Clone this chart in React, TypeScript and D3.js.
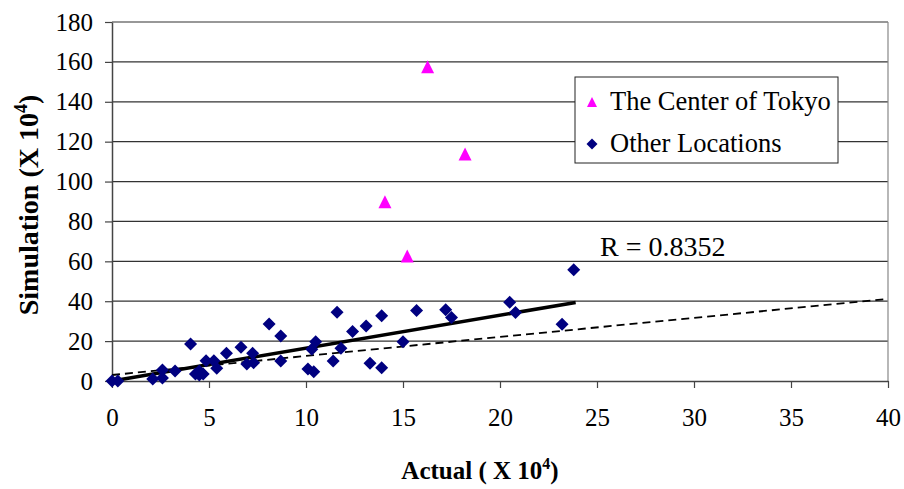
import React, { useEffect, useRef } from 'react';
import * as d3 from 'd3';

// values (units: x 10^4)
const tokyo: [number, number][] = [
  [16.27, 157.6],
  [18.2, 113.8],
  [14.07, 89.9],
  [15.22, 62.7],
];

const otherLocations: [number, number][] = [
  [0, 0], [0.3, 0], [2.1, 1], [2.6, 5.5], [2.6, 1.5], [3.25, 5], [4.05, 18.6],
  [4.3, 3.5], [4.5, 5], [4.7, 3.5], [4.5, 3], [4.85, 10.2], [5.25, 10.2], [5.4, 6.4],
  [5.9, 13.9], [6.65, 16.9], [6.95, 8.5], [7.3, 9.2], [7.25, 13.9], [8.1, 28.6],
  [8.7, 22.6], [8.7, 10], [10.1, 6], [10.4, 4.7], [10.5, 19.7], [10.3, 15.9],
  [11.6, 34.5], [11.4, 10], [11.8, 16.4], [12.4, 24.8], [13.1, 27.6], [13.3, 8.9],
  [13.9, 32.7], [13.9, 6.7], [15.0, 19.7], [15.7, 35.3], [17.2, 35.7], [17.5, 31.8],
  [20.5, 39.5], [20.8, 34.3], [23.2, 28.5], [23.8, 55.8],
];

// fitted line (solid) and reference line (dashed), as end points
const fitLine: [number, number][] = [[0, 0], [23.9, 39.4]];
const refLine: [number, number][] = [[0, 3.0], [40, 41.2]];

const xTicks = [0, 5, 10, 15, 20, 25, 30, 35, 40];
const yTicks = [0, 20, 40, 60, 80, 100, 120, 140, 160, 180];

const legendItems = ['The Center of Tokyo', 'Other Locations'];

const W = 904, H = 489;
const FONT = 'Liberation Serif';

const diamond = (r: number) => `M0,${-r}L${r},0L0,${r}L${-r},0Z`;
const triangle = (r: number) => `M0,${-r}L${r},${r}L${-r},${r}Z`;

export default function App() {
  const svgRef = useRef<SVGSVGElement>(null);

  useEffect(() => {
    const svg = d3.select(svgRef.current);
    svg.selectAll('*').remove();

    const x = d3.scaleLinear().domain([0, 40]).range([112, 888]);
    const y = d3.scaleLinear().domain([0, 180]).range([381, 22]);

    // gridlines
    svg.append('g')
      .selectAll('line')
      .data(yTicks.slice(1))
      .enter()
      .append('line')
      .attr('x1', x(0)).attr('x2', x(40))
      .attr('y1', d => y(d)).attr('y2', d => y(d))
      .attr('stroke', '#333').attr('stroke-width', 1.2);

    // right border of plot area
    svg.append('line')
      .attr('x1', x(40)).attr('x2', x(40))
      .attr('y1', y(180)).attr('y2', y(0))
      .attr('stroke', '#888').attr('stroke-width', 1.2);

    // axes
    const yAxis = svg.append('g')
      .attr('transform', `translate(${x(0)},0)`)
      .call(d3.axisLeft(y).tickValues(yTicks).tickSize(7).tickPadding(12).tickSizeOuter(0));
    const xAxis = svg.append('g')
      .attr('transform', `translate(0,${y(0)})`)
      .call(d3.axisBottom(x).tickValues(xTicks).tickSize(7).tickPadding(20).tickSizeOuter(0));

    [yAxis, xAxis].forEach(a => {
      a.attr('font-family', FONT).attr('font-size', 25);
      a.select('.domain').attr('stroke', '#444').attr('stroke-width', 1.5);
      a.selectAll('.tick line').attr('stroke', '#444').attr('stroke-width', 1.2);
      a.selectAll('.tick text').attr('fill', '#000');
    });

    // lines
    const line = d3.line<[number, number]>().x(d => x(d[0])).y(d => y(d[1]));
    svg.append('path')
      .attr('d', line(refLine))
      .attr('fill', 'none').attr('stroke', '#000')
      .attr('stroke-width', 1.8).attr('stroke-dasharray', '8,5');
    svg.append('path')
      .attr('d', line(fitLine))
      .attr('fill', 'none').attr('stroke', '#000')
      .attr('stroke-width', 3.5);

    // points
    svg.append('g')
      .selectAll('path')
      .data(otherLocations)
      .enter()
      .append('path')
      .attr('d', diamond(6.5))
      .attr('transform', d => `translate(${x(d[0])},${y(d[1])})`)
      .attr('fill', '#000080');

    svg.append('g')
      .selectAll('path')
      .data(tokyo)
      .enter()
      .append('path')
      .attr('d', triangle(6.5))
      .attr('transform', d => `translate(${x(d[0])},${y(d[1])})`)
      .attr('fill', '#ff00ff');

    // R label
    svg.append('text')
      .attr('x', 600).attr('y', 256)
      .attr('font-family', FONT).attr('font-size', 28)
      .text('R = 0.8352');

    // legend
    const lg = svg.append('g');
    lg.append('rect')
      .attr('x', 575).attr('y', 77).attr('width', 263).attr('height', 86)
      .attr('fill', '#fff').attr('stroke', '#222').attr('stroke-width', 1);
    lg.append('path').attr('d', triangle(5))
      .attr('transform', 'translate(592,102)').attr('fill', '#ff00ff');
    lg.append('path').attr('d', diamond(5.5))
      .attr('transform', 'translate(592,144)').attr('fill', '#000080');
    lg.selectAll('text')
      .data(legendItems)
      .enter()
      .append('text')
      .attr('x', 610)
      .attr('y', (d, i) => 110 + i * 42)
      .attr('font-family', FONT).attr('font-size', 26.5)
      .text(d => d);

    // axis titles
    const xt = svg.append('text')
      .attr('x', 480).attr('y', 479)
      .attr('text-anchor', 'middle')
      .attr('font-family', FONT).attr('font-size', 25).attr('font-weight', 'bold');
    xt.append('tspan').text('Actual ( X 10');
    xt.append('tspan').attr('dy', -10).attr('font-size', 16).text('4');
    xt.append('tspan').attr('dy', 10).text(')');

    const yt = svg.append('text')
      .attr('transform', 'translate(38,205) rotate(-90)')
      .attr('text-anchor', 'middle')
      .attr('font-family', FONT).attr('font-size', 28).attr('font-weight', 'bold');
    yt.append('tspan').text('Simulation (X 10');
    yt.append('tspan').attr('dy', -11).attr('font-size', 18).text('4');
    yt.append('tspan').attr('dy', 11).text(')');
  }, []);

  return (
    <svg
      ref={svgRef}
      width={W}
      height={H}
      style={{ position: 'absolute', left: 0, top: 0, background: '#fff' }}
    />
  );
}
